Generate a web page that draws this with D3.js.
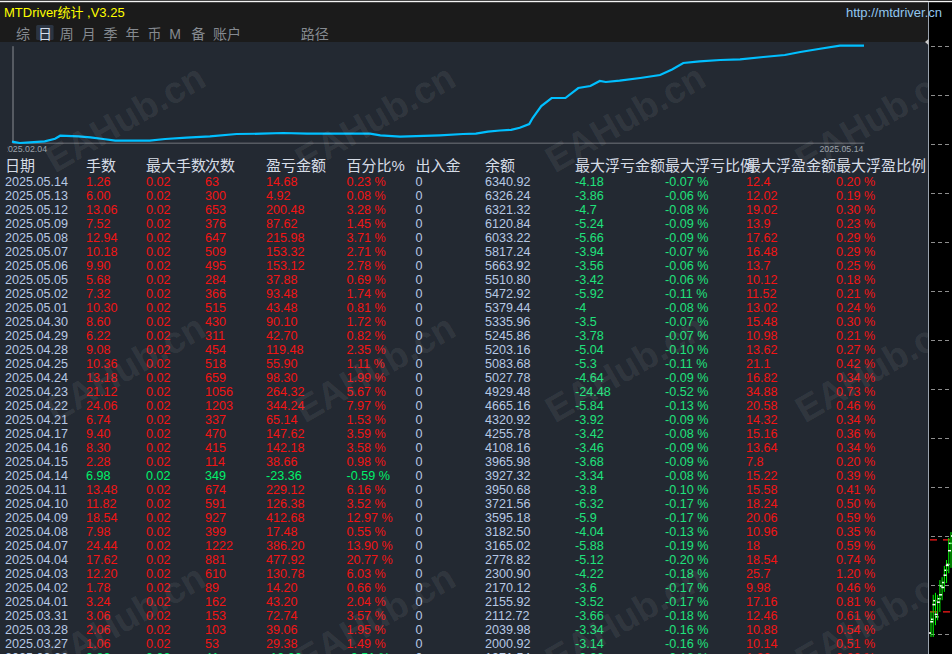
<!DOCTYPE html>
<html>
<head>
<meta charset="utf-8">
<script src="https://cdn.jsdelivr.net/npm/d3@7"></script>
<style>
  html, body { margin: 0; padding: 0; background: #000; overflow: hidden; }
  svg { display: block; font-family: "Liberation Sans", Arial, "Noto Sans CJK SC", sans-serif; }
</style>
</head>
<body>
<svg id="chart"></svg>
<script>
// ---- data ----
const titleText = "MTDriver统计 ,V3.25";
const siteText = "http://mtdriver.cn";
const tabs = ["综", "日", "周", "月", "季", "年", "币", "M", "备", "账户", "路径"];
const tabSlots = [0, 1, 2, 3, 4, 5, 6, 7, 8, 9, 13];
const activeTab = "日";

// balance curve: day offset from 2025.02.04, balance
const curveDay = [0, 0.9, 2.1, 3.8, 5.0, 5.6, 7.7, 9.1, 10.6, 12.0, 16.0, 17.8, 20.3, 23.0, 26.1,
  29.0, 31.5, 34.3, 41.6, 42.8, 45.1, 49.7, 52.4, 53.9, 55.3, 56.7, 58.0, 59.0, 60.1, 60.5,
  61.5, 62.7, 64.3, 65.8, 67.2, 68.3, 69.0, 70.6, 73.0, 75.3, 76.7, 78.0, 79.9, 82.3, 84.6,
  87.3, 89.8, 91.6, 93.9, 96.2, 99];
const curveBalance = [1515, 1450, 1485, 1535, 1666, 1817, 1786, 1736, 1651, 1565, 1565, 1651, 1716, 1786, 1902,
  1917, 1952, 1917, 1917, 1837, 1766, 1837, 1902, 1917, 2023, 2078, 2113, 2219, 2405, 2706,
  3309, 3711, 3711, 4214, 4315, 4566, 4516, 4581, 4717, 4867, 5144, 5471, 5556, 5621, 5656,
  5772, 5873, 6023, 6189, 6340, 6340.92];
const curveTicks = ["2025.02.04", "2025.05.14"];

const headers = ["日期", "手数", "最大手数", "次数", "盈亏金额", "百分比%", "出入金", "余额",
  "最大浮亏金额", "最大浮亏比例", "最大浮盈金额", "最大浮盈比例"];

const dates = ["2025.05.14", "2025.05.13", "2025.05.12", "2025.05.09", "2025.05.08", "2025.05.07",
  "2025.05.06", "2025.05.05", "2025.05.02", "2025.05.01", "2025.04.30", "2025.04.29", "2025.04.28",
  "2025.04.25", "2025.04.24", "2025.04.23", "2025.04.22", "2025.04.21", "2025.04.17", "2025.04.16",
  "2025.04.15", "2025.04.14", "2025.04.11", "2025.04.10", "2025.04.09", "2025.04.08", "2025.04.07",
  "2025.04.04", "2025.04.03", "2025.04.02", "2025.04.01", "2025.03.31", "2025.03.28", "2025.03.27",
  "2025.03.26"];
const lots = [1.26, 6.00, 13.06, 7.52, 12.94, 10.18, 9.90, 5.68, 7.32, 10.30, 8.60, 6.22, 9.08,
  10.36, 13.18, 21.12, 24.06, 6.74, 9.40, 8.30, 2.28, 6.98, 13.48, 11.82, 18.54, 7.98, 24.44,
  17.62, 12.20, 1.78, 3.24, 3.06, 2.06, 1.06, 0.82];
const maxLot = [0.02, 0.02, 0.02, 0.02, 0.02, 0.02, 0.02, 0.02, 0.02, 0.02, 0.02, 0.02, 0.02,
  0.02, 0.02, 0.02, 0.02, 0.02, 0.02, 0.02, 0.02, 0.02, 0.02, 0.02, 0.02, 0.02, 0.02,
  0.02, 0.02, 0.02, 0.02, 0.02, 0.02, 0.02, 0.02];
const trades = [63, 300, 653, 376, 647, 509, 495, 284, 366, 515, 430, 311, 454,
  518, 659, 1056, 1203, 337, 470, 415, 114, 349, 674, 591, 927, 399, 1222,
  881, 610, 89, 162, 153, 103, 53, 41];
const profit = [14.68, 4.92, 200.48, 87.62, 215.98, 153.32, 153.12, 37.88, 93.48, 43.48, 90.10, 42.70, 119.48,
  55.90, 98.30, 264.32, 344.24, 65.14, 147.62, 142.18, 38.66, -23.36, 229.12, 126.38, 412.68, 17.48, 386.20,
  477.92, 130.78, 14.20, 43.20, 72.74, 39.06, 29.38, -10.36];
const profitPct = [0.23, 0.08, 3.28, 1.45, 3.71, 2.71, 2.78, 0.69, 1.74, 0.81, 1.72, 0.82, 2.35,
  1.11, 1.99, 5.67, 7.97, 1.53, 3.59, 3.58, 0.98, -0.59, 6.16, 3.52, 12.97, 0.55, 13.90,
  20.77, 6.03, 0.66, 2.04, 3.57, 1.95, 1.49, -0.51];
const cashFlow = [0, 0, 0, 0, 0, 0, 0, 0, 0, 0, 0, 0, 0,
  0, 0, 0, 0, 0, 0, 0, 0, 0, 0, 0, 0, 0, 0,
  0, 0, 0, 0, 0, 0, 0, 0];
const balance = [6340.92, 6326.24, 6321.32, 6120.84, 6033.22, 5817.24, 5663.92, 5510.80, 5472.92, 5379.44,
  5335.96, 5245.86, 5203.16, 5083.68, 5027.78, 4929.48, 4665.16, 4320.92, 4255.78, 4108.16,
  3965.98, 3927.32, 3950.68, 3721.56, 3595.18, 3182.50, 3165.02, 2778.82, 2300.90, 2170.12,
  2155.92, 2112.72, 2039.98, 2000.92, 1971.54];
const maxFloatLoss = [-4.18, -3.86, -4.7, -5.24, -5.66, -3.94, -3.56, -3.42, -5.92, -4, -3.5, -3.78, -5.04,
  -5.3, -4.64, -24.48, -5.84, -3.92, -3.42, -3.46, -3.68, -3.34, -3.8, -6.32, -5.9, -4.04, -5.88,
  -5.12, -4.22, -3.6, -3.52, -3.66, -3.34, -3.14, -3.26];
const maxFloatLossPct = [-0.07, -0.06, -0.08, -0.09, -0.09, -0.07, -0.06, -0.06, -0.11, -0.08, -0.07, -0.07, -0.10,
  -0.11, -0.09, -0.52, -0.13, -0.09, -0.08, -0.09, -0.09, -0.08, -0.10, -0.17, -0.17, -0.13, -0.19,
  -0.20, -0.18, -0.17, -0.17, -0.18, -0.16, -0.16, -0.16];
const maxFloatProfit = [12.4, 12.02, 19.02, 13.9, 17.62, 16.48, 13.7, 10.12, 11.52, 13.02, 15.48, 10.98, 13.62,
  21.1, 16.82, 34.88, 20.58, 14.32, 15.16, 13.64, 7.8, 15.22, 15.58, 18.24, 20.06, 10.96, 18,
  18.54, 25.7, 9.98, 17.16, 12.46, 10.88, 10.14, 1.26];
const maxFloatProfitPct = [0.20, 0.19, 0.30, 0.23, 0.29, 0.29, 0.25, 0.18, 0.21, 0.24, 0.30, 0.21, 0.27,
  0.42, 0.34, 0.73, 0.46, 0.34, 0.36, 0.34, 0.20, 0.39, 0.41, 0.50, 0.59, 0.35, 0.59,
  0.74, 1.20, 0.46, 0.81, 0.61, 0.54, 0.51, 0.06];

// background price strip (MT4 chart behind the panel)
const barOpen  = [3210.2, 3212.5, 3216.0, 3214.0, 3216.5, 3218.0, 3219.5, 3222.0, 3224.0, 3227.0];
const barHigh  = [3214.6, 3218.0, 3218.4, 3218.0, 3221.0, 3221.6, 3223.9, 3225.1, 3229.6, 3230.8];
const barLow   = [3209.4, 3209.4, 3211.8, 3212.8, 3214.5, 3216.9, 3218.6, 3220.4, 3222.4, 3223.5];
const barClose = [3213.0, 3216.8, 3213.5, 3217.2, 3219.8, 3220.5, 3223.0, 3224.2, 3228.5, 3230.0];
const orderLevels = [3229.2, 3214.5];
const watermark = "EAHub.cn";

// ---- drawing ----
const W = 952, H = 654, panelW = 928;
const C = {
  panel: "#232932", header: "#1b1b1b", title: "#ffff00", site: "#92c6ee",
  tab: "#858a90", tabOn: "#d4deec", tabOnBg: "#2b3441",
  axis: "#8a8d92", axisText: "#9aa0a8", line: "#00bfff",
  head: "#d6dce6", info: "#b6c8e4", red: "#f21414", green: "#00f06a", loss: "#1fe27c"
};

const svg = d3.select("#chart").attr("width", W).attr("height", H);
const defs = svg.append("defs");
defs.append("clipPath").attr("id", "panelClip")
  .append("rect").attr("x", 0).attr("y", 0).attr("width", panelW).attr("height", H);
defs.append("clipPath").attr("id", "axisClip")
  .append("rect").attr("x", 7.5).attr("y", 0).attr("width", panelW - 7.5).attr("height", H);

svg.append("rect").attr("width", W).attr("height", H).attr("fill", "#000");

// right strip: price grid + bars
const strip = svg.append("g");
const price = d3.scaleLinear().domain([3210, 3330]).range([634, 46]);
strip.selectAll("line.grid").data(price.ticks(12)).join("line")
  .attr("class", "grid")
  .attr("x1", 931).attr("x2", W)
  .attr("y1", d => Math.round(price(d)) + 0.5).attr("y2", d => Math.round(price(d)) + 0.5)
  .attr("stroke", "#8e8e8e").attr("stroke-dasharray", "4,3");
strip.selectAll("line.order").data(orderLevels).join("line")
  .attr("class", "order")
  .attr("x1", 930).attr("x2", W)
  .attr("y1", d => price(d)).attr("y2", d => price(d))
  .attr("stroke", "#ff1a1a").attr("stroke-width", 1.2).attr("stroke-dasharray", "7,6");
const barX = d3.scalePoint().domain(d3.range(barOpen.length)).range([931, 951]);
const bars = strip.selectAll("g.bar").data(barOpen.map((o, i) => ({ i, o, h: barHigh[i], l: barLow[i], c: barClose[i] })))
  .join("g").attr("class", "bar");
bars.append("line")
  .attr("x1", d => barX(d.i)).attr("x2", d => barX(d.i))
  .attr("y1", d => price(d.h)).attr("y2", d => price(d.l))
  .attr("stroke", "#00ff00").attr("stroke-width", 1);
bars.append("line")
  .attr("x1", d => barX(d.i) - 3).attr("x2", d => barX(d.i))
  .attr("y1", d => price(d.o)).attr("y2", d => price(d.o))
  .attr("stroke", "#fff").attr("stroke-width", 1.5);
bars.append("line")
  .attr("x1", d => barX(d.i)).attr("x2", d => barX(d.i) + 3)
  .attr("y1", d => price(d.c)).attr("y2", d => price(d.c))
  .attr("stroke", "#fff").attr("stroke-width", 1.5);

// panel
const panel = svg.append("g").attr("clip-path", "url(#panelClip)");
panel.append("rect").attr("width", panelW).attr("height", H).attr("fill", C.panel);
panel.append("rect").attr("width", panelW).attr("height", 42).attr("fill", C.header);
svg.append("rect").attr("x", 0).attr("y", 0.8).attr("width", W).attr("height", 1.4).attr("fill", "#f4f4f4");
svg.append("line").attr("x1", panelW + 0.5).attr("x2", panelW + 0.5).attr("y1", 2).attr("y2", H)
  .attr("stroke", "#9aa3ae");
svg.append("path").attr("d", "M928.5,39L925,42L928.5,45Z").attr("fill", "#c8c8c8");

panel.append("text").attr("x", 4).attr("y", 16.5)
  .attr("font-size", 13).attr("fill", C.title).text(titleText);
// the site link runs over the panel edge in the original
svg.append("text").attr("x", 942).attr("y", 16.5)
  .attr("text-anchor", "end")
  .attr("font-size", 13).attr("fill", C.site).text(siteText);

// tabs
const tabX = d3.scaleLinear().domain([0, 13]).range([16, 300.7]);
const tabG = panel.append("g");
tabG.append("rect")
  .attr("x", tabX(tabSlots[tabs.indexOf(activeTab)]) - 1.8).attr("y", 25)
  .attr("width", 17.5).attr("height", 15).attr("rx", 1.5)
  .attr("fill", C.tabOnBg);
tabG.selectAll("text").data(tabs).join("text")
  .attr("x", (d, i) => tabX(tabSlots[i]))
  .attr("y", 38.5)
  .attr("font-size", 14)
  .attr("fill", d => d === activeTab ? C.tabOn : C.tab)
  .text(d => d);

// balance curve
const x = d3.scaleLinear().domain([0, 99]).range([12, 864]);
const y = d3.scaleLinear().domain([1500, 6340.92]).range([142, 45.7]);

const xAxis = panel.append("g")
  .attr("transform", "translate(0,142.5)")
  .attr("clip-path", "url(#axisClip)")
  .call(d3.axisBottom(x).tickValues([0, 99]).tickSize(0).tickSizeOuter(0)
    .tickFormat((d, i) => curveTicks[i]));
xAxis.select(".domain").attr("stroke", C.axis);
xAxis.selectAll("text")
  .attr("font-family", "\"Liberation Sans\", Arial, sans-serif")
  .attr("font-size", 8.8).attr("fill", C.axisText)
  .attr("text-anchor", (d, i) => i === 0 ? "start" : "end")
  .attr("dx", (d, i) => i === 0 ? -9.5 : -1)
  .attr("y", 3.2);

const yAxis = panel.append("g")
  .attr("transform", "translate(12.5,0)")
  .call(d3.axisLeft(y).tickValues([]).tickSize(0).tickSizeOuter(0));
yAxis.select(".domain").attr("stroke", C.axis);

panel.append("path")
  .datum(curveDay.map((d, i) => [d, curveBalance[i]]))
  .attr("fill", "none")
  .attr("stroke", C.line)
  .attr("stroke-width", 2.2)
  .attr("d", d3.line().x(d => x(d[0])).y(d => y(d[1])));

// table (plain ASCII minus, as the terminal prints it)
const f2 = v => v.toFixed(2);
const pct = v => v.toFixed(2) + " %";
const plain = v => String(v);
const signColor = i => profit[i] < 0 ? C.green : C.red;
const columns = [
  { vals: dates, x: 5, fmt: plain, color: () => C.info },
  { vals: lots, x: 86, fmt: f2, color: signColor },
  { vals: maxLot, x: 146, fmt: f2, color: signColor },
  { vals: trades, x: 205, fmt: plain, color: signColor },
  { vals: profit, x: 266, fmt: f2, color: signColor },
  { vals: profitPct, x: 346.5, fmt: pct, color: signColor },
  { vals: cashFlow, x: 415.5, fmt: plain, color: () => C.info },
  { vals: balance, x: 485, fmt: f2, color: () => C.info },
  { vals: maxFloatLoss, x: 575, fmt: plain, color: () => C.loss },
  { vals: maxFloatLossPct, x: 665, fmt: pct, color: () => C.loss },
  { vals: maxFloatProfit, x: 746, fmt: plain, color: () => C.red },
  { vals: maxFloatProfitPct, x: 836, fmt: pct, color: () => C.red }
];
const rowY = d3.scaleLinear().domain([0, 1]).range([186, 200]);

const table = panel.append("g");
table.selectAll("text.head").data(headers).join("text")
  .attr("class", "head")
  .attr("x", (d, i) => columns[i].x)
  .attr("y", 171)
  .attr("font-size", 15)
  .attr("fill", C.head)
  .text(d => d);

columns.forEach(col => {
  table.append("g").selectAll("text").data(col.vals).join("text")
    .attr("x", col.x)
    .attr("y", (d, i) => rowY(i))
    .attr("font-size", 12.6)
    .attr("fill", (d, i) => col.color(i))
    .text(d => col.fmt(d));
});

// watermark
const wmX = [125, 375, 625, 875], wmY = [118, 368, 618];
const marks = wmY.flatMap(cy => wmX.map(cx => [cx, cy]));
panel.append("g").selectAll("text").data(marks).join("text")
  .attr("transform", d => `translate(${d[0]},${d[1]}) rotate(-30)`)
  .attr("text-anchor", "middle")
  .attr("dy", "0.35em")
  .attr("font-size", 37)
  .attr("font-weight", "bold")
  .attr("fill", "rgba(255,255,255,0.085)")
  .text(watermark);
</script>
</body>
</html>
